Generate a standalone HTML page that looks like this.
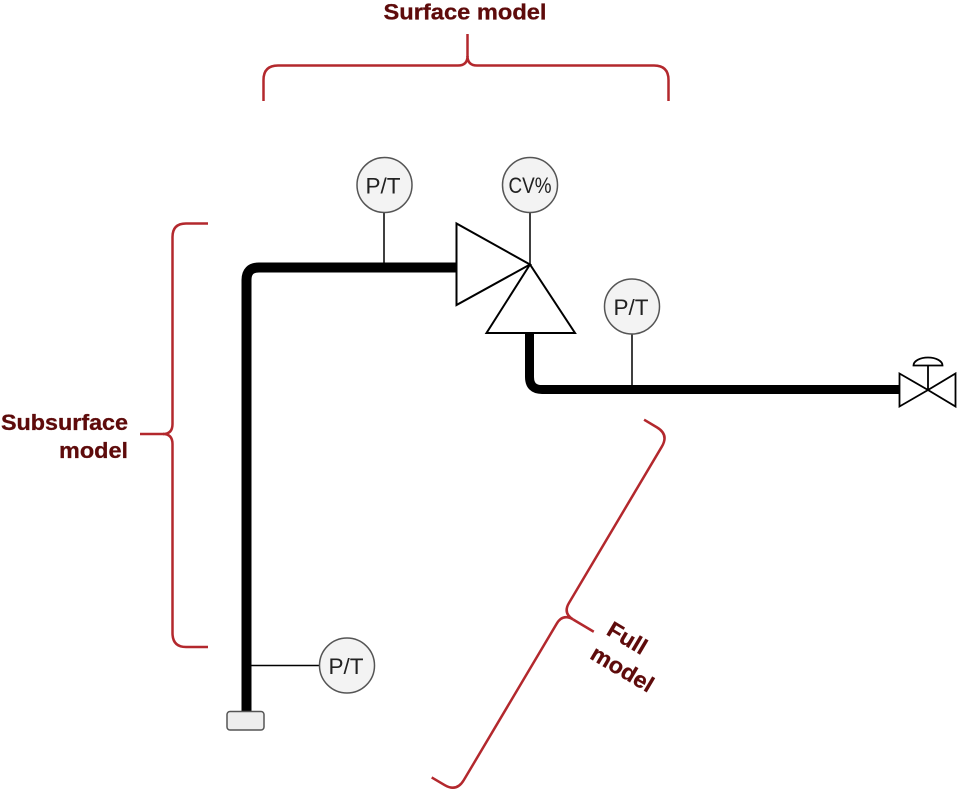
<!DOCTYPE html>
<html>
<head>
<meta charset="utf-8">
<style>
  html,body{margin:0;padding:0;background:#fff;}
  svg{display:block;}
  .lbl{font-family:"Liberation Sans",Arial,sans-serif;font-weight:bold;font-size:22.5px;fill:#5e0b0b;stroke:#5e0b0b;stroke-width:0.3;}
  .ins{font-family:"Liberation Sans",Arial,sans-serif;font-size:22px;fill:#222;}
</style>
</head>
<body>
<svg width="957" height="792" viewBox="0 0 957 792" xmlns="http://www.w3.org/2000/svg">
  <rect width="957" height="792" fill="#fff"/>

  <!-- Brackets -->
  <g fill="none" stroke="#b3282d" stroke-width="2.5">
    <path d="M263.5 101 V80 Q263.5 65.5 278 65.5 H458 Q467.5 65.5 467.5 56 Q467.5 65.5 477 65.5 H654 Q668.5 65.5 668.5 80 V101"/>
    <path d="M467.5 34 V57"/>
    <path d="M208 223.5 H186 Q172.5 223.5 172.5 237 V424 Q172.5 434 163 434 Q172.5 434 172.5 444 V633 Q172.5 647 186 647 H208"/>
    <path d="M140 434 H164"/>
    <g transform="translate(574,620) rotate(30.7)">
      <path d="M-42 -208 H-27 Q-13 -208 -13 -194 V-12 Q-13 0 -1 0 Q-13 0 -13 12 V194 Q-13 208 -27 208 H-42"/>
      <path d="M-1 0 H23"/>
    </g>
  </g>

  <text class="lbl" x="383.5" y="19.5" textLength="163" lengthAdjust="spacingAndGlyphs">Surface model</text>
  <text class="lbl" x="1" y="430" textLength="127" lengthAdjust="spacingAndGlyphs">Subsurface</text>
  <text class="lbl" x="59" y="458" textLength="69" lengthAdjust="spacingAndGlyphs">model</text>
  <g transform="translate(574,620) rotate(30.7)">
    <text class="lbl" x="34" y="-4" textLength="42" lengthAdjust="spacingAndGlyphs">Full</text>
    <text class="lbl" x="32" y="25" textLength="69" lengthAdjust="spacingAndGlyphs">model</text>
  </g>

  <!-- Pipes -->
  <path d="M246.5 711 V280 Q246.5 267.5 259 267.5 H457" fill="none" stroke="#000" stroke-width="10"/>
  <path d="M529.5 333 V377 Q529.5 389.5 542 389.5 H900" fill="none" stroke="#000" stroke-width="9"/>

  <!-- instrument lines -->
  <g stroke="#000" stroke-width="1.5">
    <line x1="384" y1="212" x2="384" y2="263"/>
    <line x1="530" y1="212" x2="530" y2="265"/>
    <line x1="632" y1="334" x2="632" y2="385"/>
    <line x1="251" y1="665.5" x2="319" y2="665.5"/>
  </g>

  <!-- Valve triangles -->
  <g fill="#fff" stroke="#000" stroke-width="2" stroke-linejoin="miter">
    <polygon points="456.5,223.5 456.5,305 530,264.5"/>
    <polygon points="530,264.5 486.5,333 575,333"/>
  </g>

  <!-- Instrument circles -->
  <g fill="#f3f3f3" stroke="#555" stroke-width="1.5">
    <circle cx="384.5" cy="185" r="27.5"/>
    <circle cx="530" cy="185" r="27.5"/>
    <circle cx="632" cy="306.5" r="27.5"/>
    <circle cx="347" cy="665.5" r="27.5"/>
  </g>
  <text class="ins" x="383" y="193.5" text-anchor="middle" textLength="35" lengthAdjust="spacingAndGlyphs">P/T</text>
  <text class="ins" x="530" y="193" text-anchor="middle" textLength="43" lengthAdjust="spacingAndGlyphs">CV%</text>
  <text class="ins" x="631" y="315" text-anchor="middle" textLength="35" lengthAdjust="spacingAndGlyphs">P/T</text>
  <text class="ins" x="346" y="674" text-anchor="middle" textLength="35" lengthAdjust="spacingAndGlyphs">P/T</text>

  <!-- Wellhead box -->
  <rect x="227" y="711.5" width="37" height="18.5" rx="3" fill="#eee" stroke="#555" stroke-width="1.5"/>

  <!-- End valve -->
  <g fill="#fff" stroke="#000" stroke-width="1.8">
    <polygon points="899.5,373.5 899.5,406.5 928,390"/>
    <polygon points="955.5,373.5 955.5,406.5 928,390"/>
    <line x1="928" y1="390" x2="928" y2="365"/>
    <path d="M913.5 365.5 A14.5 8 0 0 1 942.5 365.5 Z"/>
  </g>
</svg>
</body>
</html>
